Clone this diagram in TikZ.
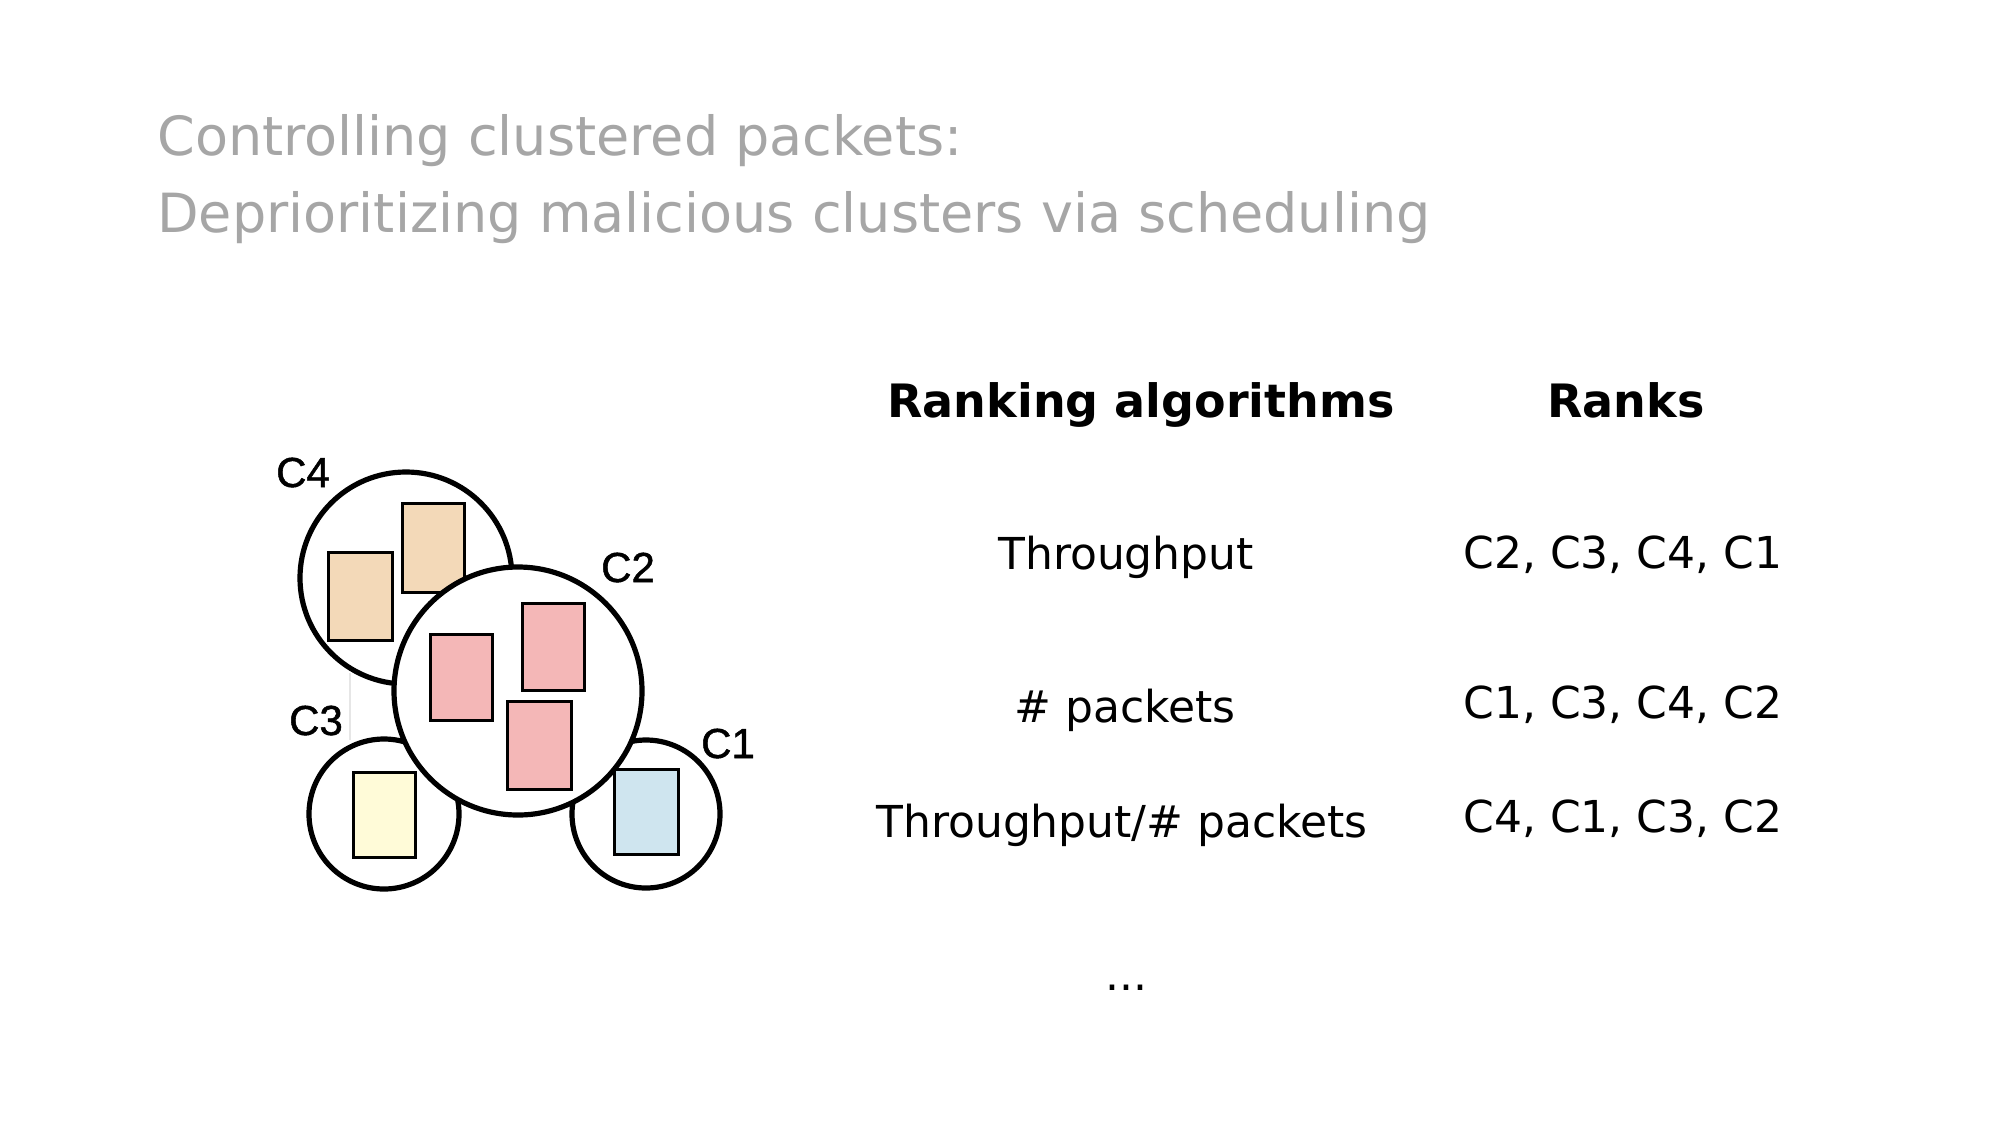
\documentclass[tikz,border=0pt]{standalone}
\usepackage{fontspec}
\setmainfont{DejaVu Sans}
\newfontfamily\labelfont[FakeBold=1.2]{Liberation Sans}
\definecolor{titlegray}{HTML}{A6A6A6}
\definecolor{peach}{HTML}{F3D9B8}
\definecolor{pinkpk}{HTML}{F4B7B7}
\definecolor{yellowpk}{HTML}{FFFBD8}
\definecolor{bluepk}{HTML}{CFE5EF}
\definecolor{faintline}{HTML}{E6E6E6}
\tikzset{
  cluster/.style={draw=black, line width=2.6pt, fill=white},
  packet/.style={draw=black, line width=1.5pt},
  clabel/.style={font=\labelfont\fontsize{21}{21}\selectfont, anchor=base, inner sep=0pt},
  titletext/.style={font=\fontsize{27}{27}\selectfont, text=titlegray, anchor=base west, inner sep=0pt},
  headtext/.style={font=\bfseries\fontsize{23}{23}\selectfont, anchor=base, inner sep=0pt},
  rowtext/.style={font=\fontsize{22}{22}\selectfont, anchor=base, inner sep=0pt},
}
\begin{document}
\begin{tikzpicture}[x=0.5pt, y=-0.5pt]
\useasboundingbox (0,0) rectangle (2000,1125);
\fill[white] (0,0) rectangle (2000,1125);

% title
\node[titletext] (t1) at (157,155) {Controlling clustered packets:};
\node[titletext] (t2) at (157,232) {Deprioritizing malicious clusters via scheduling};

% faint line
\draw[faintline, line width=1pt] (350,673) -- (350,740);

% C4
\draw[cluster] (406,578) circle[radius=106];
\draw[packet, fill=peach] (328,552) rectangle (392,640);
\draw[packet, fill=peach] (402,503) rectangle (464,592);
% C3
\draw[cluster] (384,814) circle[radius=75];
\draw[packet, fill=yellowpk] (353,772) rectangle (415,857);
% C1
\draw[cluster] (646,814) circle[radius=74];
\draw[packet, fill=bluepk] (614,769) rectangle (678,854);
% C2
\draw[cluster] (518,691) circle[radius=124];
\draw[packet, fill=pinkpk] (430,634) rectangle (492,720);
\draw[packet, fill=pinkpk] (522,603) rectangle (584,690);
\draw[packet, fill=pinkpk] (507,701) rectangle (571,789);

% cluster labels
\node[clabel] (l4) at (303,487) {C4};
\node[clabel] (l2) at (628,582) {C2};
\node[clabel] (l3) at (316,735) {C3};
\node[clabel] (l1) at (728,758) {C1};

% table
\node[headtext] (h1) at (1141,417) {Ranking algorithms};
\node[headtext] (h2) at (1626,417) {Ranks};

\node[rowtext] (a1) at (1126,569) {Throughput};
\node[rowtext] (r1) at (1623,568) {C2, C3, C4, C1};
\node[rowtext] (a2) at (1125,722) {\# packets};
\node[rowtext] (r2) at (1623,718) {C1, C3, C4, C2};
\node[rowtext] (a3) at (1122,837) {Throughput/\# packets};
\node[rowtext] (r3) at (1623,832) {C4, C1, C3, C2};
\node[rowtext] (dots) at (1126,990) {...};
\end{tikzpicture}
\end{document}
